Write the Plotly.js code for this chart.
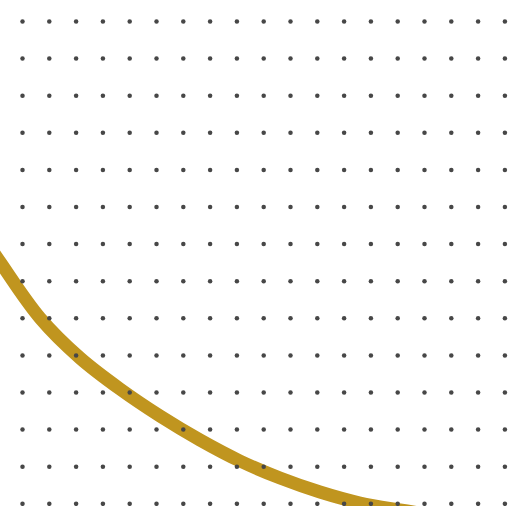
<!DOCTYPE html>
<html>
<head>
<meta charset="utf-8">
<script src="https://cdn.plot.ly/plotly-3.0.1.min.js"></script>
<style>html,body{margin:0;padding:0;background:#fff;}#chart{width:512px;height:506px;}</style>
</head>
<body>
<div id="chart"></div>
<script>
// Dot grid column and row positions (pixel-space units)
var gridCols = [22.5, 49.3, 76.1, 102.9, 129.7, 156.5, 183.3, 210.1, 236.9, 263.7, 290.5, 317.3, 344.1, 370.9, 397.7, 424.5, 451.3, 478.1, 504.9];
var gridRows = [21.5, 58.6, 95.7, 132.8, 169.9, 207.0, 244.1, 281.2, 318.3, 355.4, 392.5, 429.6, 466.7, 503.8];

// Curve points
var curveX = [-40, 0, 40, 80, 120, 160, 200, 240, 280, 320, 360, 400, 440];
var curveY = [202, 262, 318, 358, 389, 416, 440, 461, 478, 492, 503, 510, 516];

var dotX = [], dotY = [];
gridRows.forEach(function (r) {
  gridCols.forEach(function (c) { dotX.push(c); dotY.push(r); });
});

var traces = [
  {
    x: curveX, y: curveY, type: 'scatter', mode: 'lines',
    line: {color: '#C0951F', width: 13, shape: 'spline', smoothing: 1},
    hoverinfo: 'skip'
  },
  {
    x: dotX, y: dotY, type: 'scatter', mode: 'markers',
    marker: {color: '#474747', size: 4.5, line: {width: 0}},
    hoverinfo: 'skip'
  }
];

var layout = {
  width: 512, height: 506,
  margin: {l: 0, r: 0, t: 0, b: 0, pad: 0},
  paper_bgcolor: '#ffffff', plot_bgcolor: '#ffffff',
  showlegend: false,
  xaxis: {range: [0, 512], visible: false, fixedrange: true},
  yaxis: {range: [506, 0], visible: false, fixedrange: true}
};

Plotly.newPlot('chart', traces, layout, {staticPlot: true, displayModeBar: false});
</script>
</body>
</html>
